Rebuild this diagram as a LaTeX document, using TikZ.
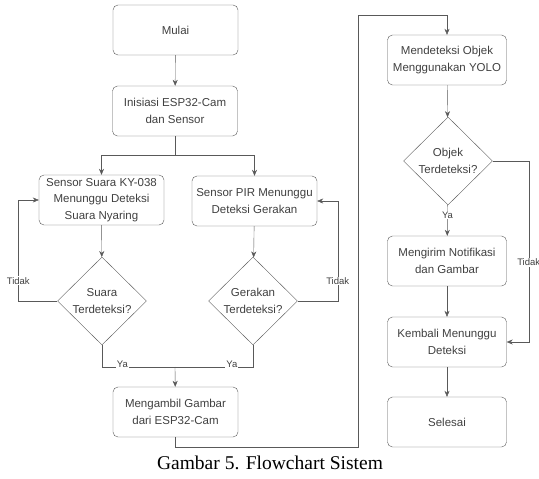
\documentclass[tikz,border=0pt]{standalone}
\usepackage{fontspec}
\setmainfont{Liberation Serif}
\setsansfont{Liberation Sans}
\usetikzlibrary{
  shapes.geometric, % Shape "diamond"
  arrows.meta,
  positioning,
}
\newcommand{\boxfont}{\fontsize{11.5}{16.5}\selectfont}
\newcommand{\lblfont}{\fontsize{9.5}{10}\selectfont}
\def\mybw{125pt}
\def\mybwr{119pt}
\def\mybh{50pt}
\tikzset{
  font=\sffamily,
  line width=0.9pt,
  >={Stealth[length=6pt,width=5pt]},
  flow/.style={
    draw=black!65,
    ->
  },
  line/.style={
    draw=black!65
  },
  my box/.style={
    draw=black!65,
    text=black!75,
    font=\sffamily\boxfont,
    align=center,
    rounded corners=5pt,
    minimum width=\mybw,
    minimum height=\mybh,
    inner sep=1pt,
    rectangle
  },
  my box right/.style={
    my box,
    minimum width=\mybwr
  },
  my decision/.style={
    draw=black!65,
    text=black!75,
    font=\sffamily\boxfont,
    align=center,
    diamond,
    aspect=1,
    minimum width=89pt,
    minimum height=88pt,
    inner sep=0pt
  },
  my label/.style={
    fill=white,
    text=black!75,
    font=\sffamily\lblfont,
    inner sep=1pt
  }
}
\begin{document}
\begin{tikzpicture}[x=1pt,y=-1pt]
\useasboundingbox (0,0) rectangle (539,479);
% left column
\node[my box]      (mulai)  at (175.5,30)  {Mulai};
\node[my box]      (init)   at (175,111)   {Inisiasi ESP32-Cam\\dan Sensor};
\node[my box]      (suara)  at (101.5,200) {Sensor Suara KY-038\\Menunggu Deteksi\\Suara Nyaring};
\node[my box]      (pir)    at (254.5,201) {Sensor PIR Menunggu\\Deteksi Gerakan};
\node[my decision] (dsuara) at (102,301)   {Suara\\Terdeteksi?};
\node[my decision] (dgerak) at (253,301)   {Gerakan\\Terdeteksi?};
\node[my box]      (ambil)  at (175.5,412) {Mengambil Gambar\\dari ESP32-Cam};
% right column
\node[my box right] (yolo)    at (447,60)  {Mendeteksi Objek\\Menggunakan YOLO};
\node[my decision]  (dobjek)  at (448,161) {Objek\\Terdeteksi?};
\node[my box right] (kirim)   at (447,261) {Mengirim Notifikasi\\dan Gambar};
\node[my box right] (kembali) at (447,342) {Kembali Menunggu\\Deteksi};
\node[my box right] (selesai) at (447,422) {Selesai};
% caption
\node[font=\rmfamily\fontsize{19.5}{22}\selectfont] (capt) at (270,463) {Gambar 5. Flowchart Sistem};
% helper points
\coordinate (split) at (175,155);
\coordinate (merge) at (175,367);
\coordinate (up)    at (358,15);

\path[flow] (mulai) -- (init);
\path[line] (init) -- (split);
\path[flow] (split) -| (suara);
\path[flow] (split) -| (pir);
\path[flow] (suara) -- (dsuara);
\path[flow] (pir) -- (dgerak);
\path[flow] (dsuara.west) -- ++(-39,0) |- node[my label,pos=0.1]{Tidak} (suara.west);
\path[flow] (dgerak.east) -- ++(40,0) |- node[my label,pos=0.1]{Tidak} (pir.east);
\path[line] (dsuara.south) |- node[my label,pos=0.64,yshift=3pt]{Ya} (merge);
\path[line] (dgerak.south) |- node[my label,pos=0.635,yshift=3pt]{Ya} (merge);
\path[flow] (merge) -- (ambil);
\path[flow] (ambil.south) -- ++(0,10) -| (up) -| (yolo.north);
\path[flow] (yolo) -- (dobjek);
\path[flow] (dobjek) -- node[my label,pos=0.33]{Ya} (kirim);
\path[flow] (dobjek.east) -- ++(36,0) |- node[my label,pos=0.28]{Tidak} (kembali.east);
\path[flow] (kirim) -- (kembali);
\path[flow] (kembali) -- (selesai);
\end{tikzpicture}
\end{document}
